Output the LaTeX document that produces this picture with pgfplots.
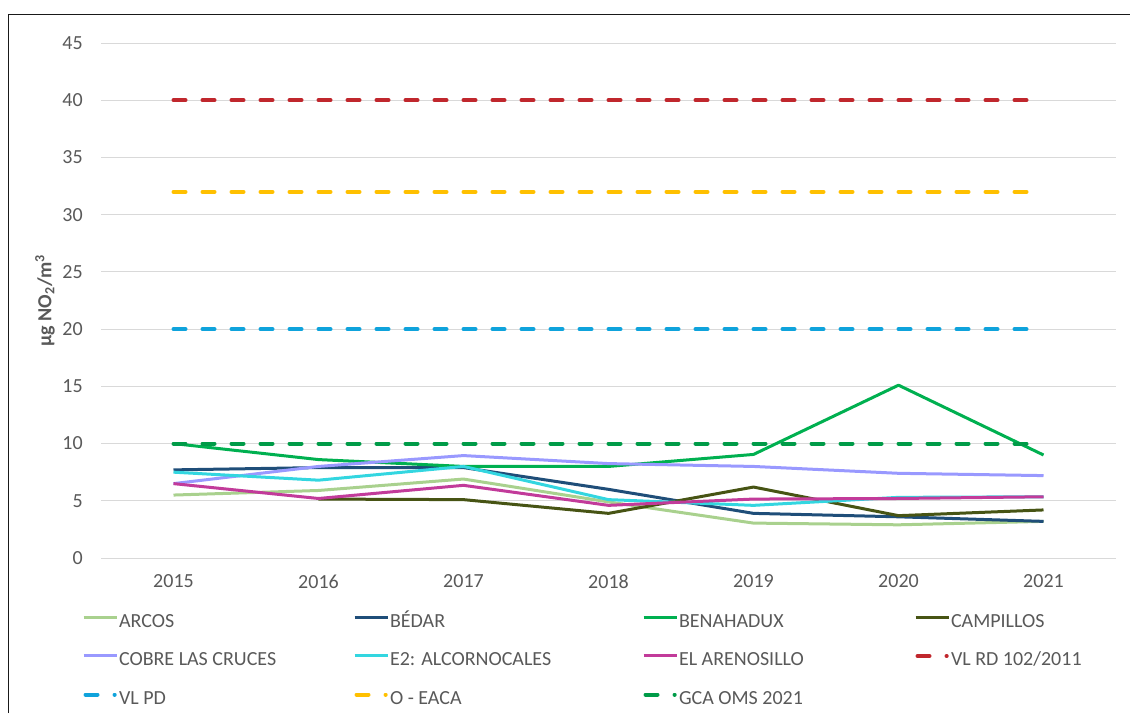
\documentclass[border=0pt]{standalone}
\usepackage{fontspec}
\setmainfont{Carlito}
\usepackage{pgfplots}
\pgfplotsset{compat=1.18}
\usepackage{pgfplotstable}
\definecolor{txtgray}{HTML}{595959}
\definecolor{gridgray}{HTML}{D9D9D9}
\definecolor{cArcos}{HTML}{A9D18E}
\definecolor{cBedar}{HTML}{1F4E79}
\definecolor{cBena}{HTML}{00B050}
\definecolor{cCamp}{HTML}{475414}
\definecolor{cCobre}{HTML}{9999FF}
\definecolor{cE2}{HTML}{33D6E0}
\definecolor{cAren}{HTML}{C23B9A}
\definecolor{cVLRD}{HTML}{C0272D}
\definecolor{cVLPD}{HTML}{0FA3DC}
\definecolor{cEACA}{HTML}{FFC000}
\definecolor{cGCA}{HTML}{009B48}

\pgfplotstableread{
x arcos bedar bena camp cobre etwo aren vlrd vlpd eaca gca
0 5.5 7.7 10.0 nan  6.5  7.5  6.5  40 20 32 10
1 5.9 7.9 8.6  5.15 8.0  6.8  5.2  40 20 32 10
2 6.9 7.9 8.0  5.1  8.95 8.0  6.35 40 20 32 10
3 4.9 6.0 8.0  3.9  8.25 5.1  4.6  40 20 32 10
4 3.05 3.9 9.05 6.2 8.0  4.6  5.15 40 20 32 10
5 2.9 3.6 15.1 3.7  7.4  5.3  5.2  40 20 32 10
6 3.2 3.2 9.0  4.2  7.2  5.35 5.35 40 20 32 10
}\data

\newcommand{\LA}[1]{\makebox[175.5pt][l]{#1}}
\newcommand{\LB}[1]{\makebox[189pt][l]{#1}}
\newcommand{\LC}[1]{\makebox[176.25pt][l]{#1}}
\newcommand{\LD}[1]{\makebox[150pt][l]{#1}}

\begin{document}
\begin{tikzpicture}
\path[use as bounding box] (0,0) rectangle (847.5pt,-534.75pt);
\draw[line width=1.1pt, black!90] (6.2pt,-534.75pt) -- (6.2pt,-10.8pt) -- (847.5pt,-10.8pt);
\begin{axis}[
  at={(75.75pt,-32.25pt)}, anchor=north west,
  width=761.25pt, height=386.25pt, scale only axis,
  xmin=-0.5, xmax=6.5, ymin=0, ymax=45,
  xtick={0,...,6}, xticklabels={2015,2016,2017,2018,2019,2020,2021},
  ytick={0,5,...,45},
  /pgf/number format/assume math mode=true,
  major tick length=0pt,
  axis line style={draw=none},
  ymajorgrids, grid style={gridgray, line width=0.75pt},
  tick label style={font=\fontsize{15}{18}\selectfont, text=txtgray},
  yticklabel style={inner sep=0pt, anchor=east, xshift=-13.5pt},
  xticklabel style={inner sep=0pt, anchor=north, yshift=-12.5pt},
  legend columns=4,
  legend style={at={(axis description cs:-0.0187,-0.1064)}, anchor=north west,
    draw=none, fill=none, inner sep=0pt, outer sep=0pt,
    font=\fontsize{15}{18}\selectfont, text=txtgray,
    nodes={inner sep=0pt, text height=11pt, text depth=3pt},
    column sep=0pt, row sep=14.9pt,
    /tikz/every odd column/.append style={column sep=0.75pt}},
  legend cell align=left,
  legend image code/.code={\draw[#1] (0pt,3.5pt) -- (24.75pt,3.5pt);},
  every axis plot/.append style={line width=2.25pt, line join=round},
  clip=false,
]
\addplot[cArcos] table[x=x,y=arcos]{\data}; \addlegendentry{\LA{ARCOS}}
\addplot[cBedar] table[x=x,y=bedar]{\data}; \addlegendentry{\LB{BÉDAR}}
\addplot[cBena] table[x=x,y=bena]{\data}; \addlegendentry{\LC{BENAHADUX}}
\addplot[cCamp, unbounded coords=jump] table[x=x,y=camp]{\data}; \addlegendentry{\LD{CAMPILLOS}}
\addplot[cCobre] table[x=x,y=cobre]{\data}; \addlegendentry{\LA{COBRE LAS CRUCES}}
\addplot[cE2] table[x=x,y=etwo]{\data}; \addlegendentry{\LB{E2: ALCORNOCALES}}
\addplot[cAren] table[x=x,y=aren]{\data}; \addlegendentry{\LC{EL ARENOSILLO}}
\pgfplotsset{dashleg/.style={line width=3pt, line cap=round, dash pattern=on 9pt off 12.75pt,
  legend image code/.code={\draw[##1] (1.5pt,3.5pt) -- (23.4pt,3.5pt);}}}
\addplot[cVLRD, dashleg] table[x=x,y=vlrd]{\data}; \addlegendentry{\LD{VL RD 102/2011}}
\addplot[cVLPD, dashleg] table[x=x,y=vlpd]{\data}; \addlegendentry{\LA{VL PD}}
\addplot[cEACA, dashleg] table[x=x,y=eaca]{\data}; \addlegendentry{\LB{O - EACA}}
\addplot[cGCA, dashleg] table[x=x,y=gca]{\data}; \addlegendentry{\LC{GCA OMS 2021}}
\node[rotate=90, anchor=center, font=\fontsize{15}{18}\selectfont\bfseries, text=txtgray]
  at ([xshift=-42pt]rel axis cs:0,0.5) {µg NO\textsubscript{2}/m\textsuperscript{3}};
\end{axis}
\end{tikzpicture}
\end{document}
